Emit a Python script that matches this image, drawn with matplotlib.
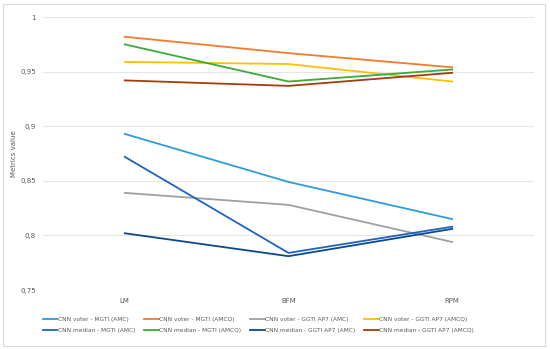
import matplotlib.pyplot as plt
from matplotlib.patches import Rectangle
from matplotlib.ticker import FuncFormatter

# --- data -----------------------------------------------------------------
CATEGORIES = ["LM", "BFM", "RPM"]
SERIES_NAMES = [
    "CNN voter - MGTI (AMC)",
    "CNN voter - MGTI (AMCQ)",
    "CNN voter - GGTI AP7 (AMC)",
    "CNN voter - GGTI AP7 (AMCQ)",
    "CNN median - MGTI (AMC)",
    "CNN median - MGTI (AMCQ)",
    "CNN median - GGTI AP7 (AMC)",
    "CNN median - GGTI AP7 (AMCQ)",
]
voter_mgti_amc = [0.893, 0.849, 0.815]
voter_mgti_amcq = [0.982, 0.967, 0.954]
voter_ggti_amc = [0.839, 0.828, 0.794]
voter_ggti_amcq = [0.959, 0.957, 0.941]
median_mgti_amc = [0.872, 0.784, 0.808]
median_mgti_amcq = [0.975, 0.941, 0.952]
median_ggti_amc = [0.802, 0.781, 0.806]
median_ggti_amcq = [0.942, 0.937, 0.949]
VALUES = [voter_mgti_amc, voter_mgti_amcq, voter_ggti_amc, voter_ggti_amcq,
          median_mgti_amc, median_mgti_amcq, median_ggti_amc, median_ggti_amcq]
COLORS = ["#2E9BDA", "#F37B2C", "#A0A0A0", "#FFC000",
          "#1F63C0", "#3DAA35", "#0B4A8A", "#A33B0C"]
Y_TICKS = [0.75, 0.8, 0.85, 0.9, 0.95, 1.0]

TXT = "#595959"

fig = plt.figure(figsize=(5.5, 3.49), dpi=100)
ax = fig.add_axes([0.078, 0.169, 0.893, 0.782])

x = list(range(len(CATEGORIES)))
handles = []
for name, vals, col in zip(SERIES_NAMES, VALUES, COLORS):
    h, = ax.plot(x, vals, color=col, linewidth=1.3, label=name, zorder=3)
    handles.append(h)

ax.set_xlim(-0.5, len(CATEGORIES) - 0.5)
ax.set_ylim(0.75, 1.0)
ax.set_xticks(x)
ax.set_xticklabels(CATEGORIES)
ax.set_yticks(Y_TICKS)
ax.yaxis.set_major_formatter(FuncFormatter(
    lambda v, _: "1" if abs(v - 1) < 1e-9 else f"{v:.2f}".rstrip("0").replace(".", ",")))
ax.grid(axis="y", color="#E6E6E6", linewidth=0.8, zorder=0)
for s in ax.spines.values():
    s.set_visible(False)
ax.tick_params(length=0, labelsize=5, labelcolor=TXT)
ax.tick_params(axis="x", pad=6)
ax.tick_params(axis="y", pad=5)
ax.set_ylabel("Metrics value", fontsize=5, color=TXT)
# y label sits at x ~ 17 px in figure
ax.yaxis.set_label_coords(-(43 - 17) / 491, 0.5)

# legend: two rows of four, in Excel order (row-wise)
order = [0, 4, 1, 5, 2, 6, 3, 7]
fig.legend([handles[i] for i in order], [SERIES_NAMES[i] for i in order],
           loc="center", bbox_to_anchor=(0.47, 0.07), ncol=4, frameon=False,
           fontsize=4.2, handlelength=2.5, handletextpad=0.1, columnspacing=1.5,
           labelspacing=1.0, labelcolor=TXT)

fig.patches.append(Rectangle((0.006, 0.009), 0.985, 0.98, transform=fig.transFigure,
                             fill=False, edgecolor="#D9D9D9", linewidth=0.8))

fig.savefig("out.png", dpi=100)
